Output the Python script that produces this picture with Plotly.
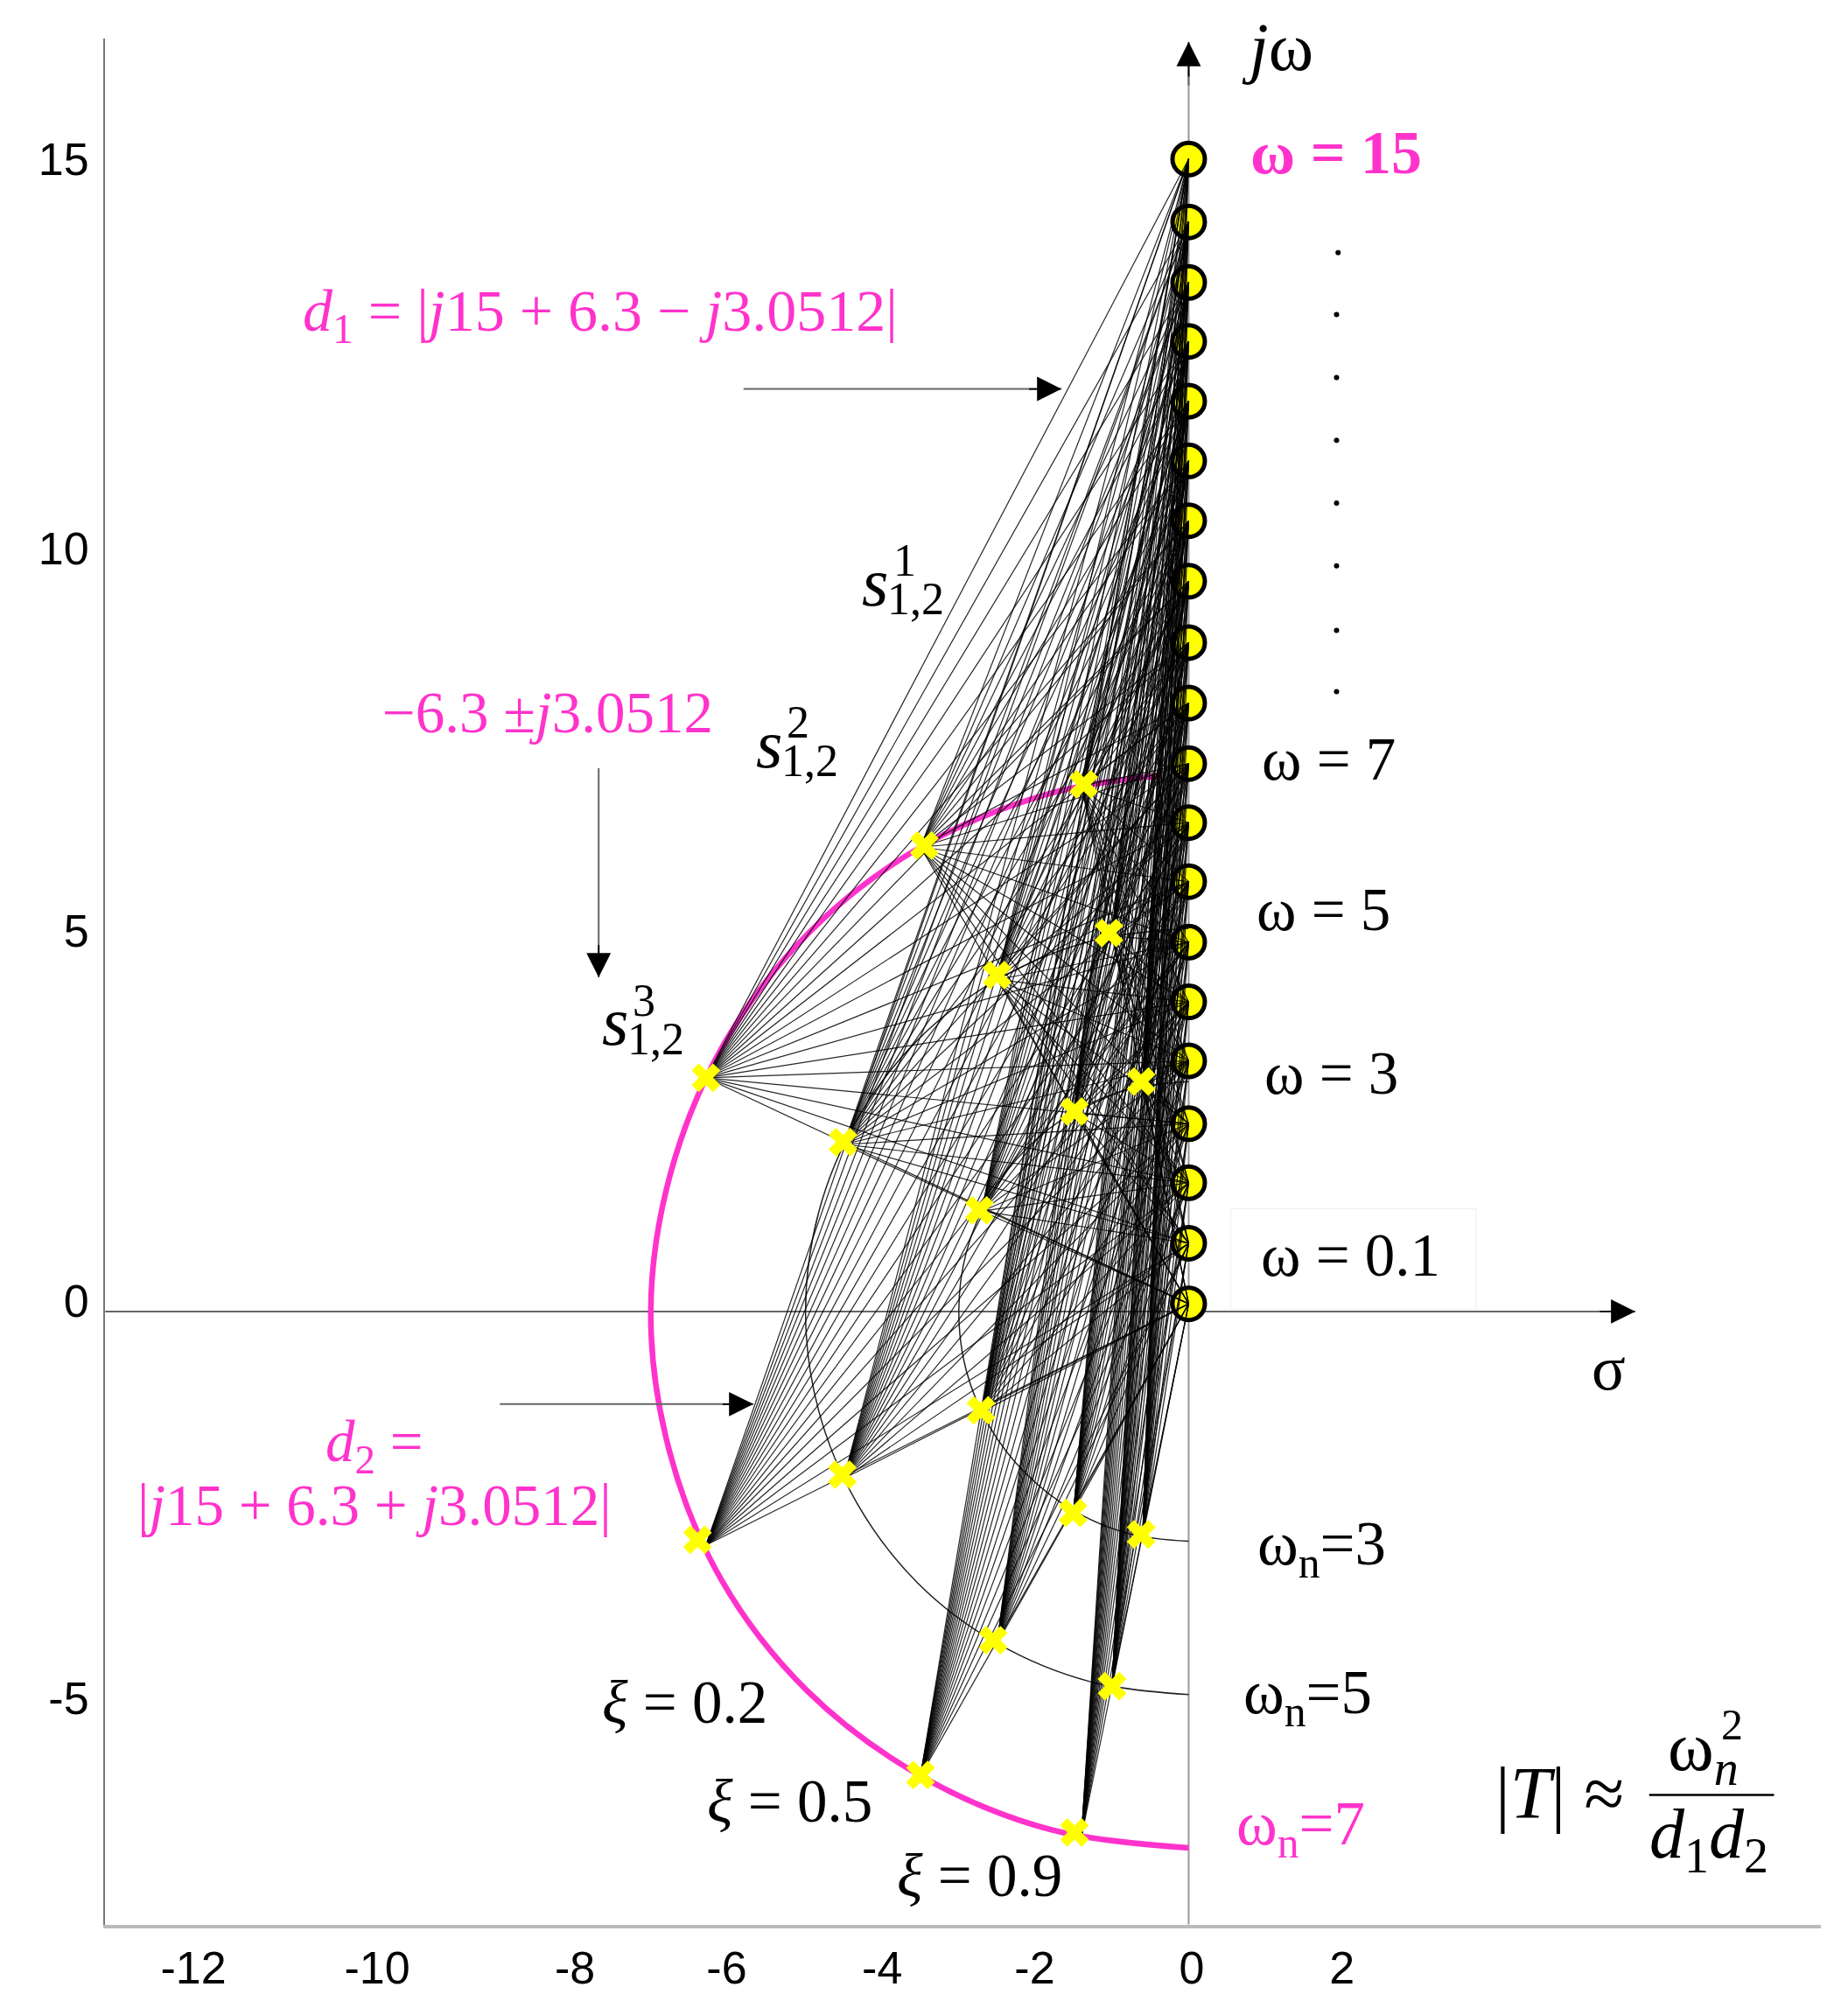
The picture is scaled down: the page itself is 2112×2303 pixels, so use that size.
import plotly.graph_objects as go

MAGENTA = "#ff33cc"
SERIF = "Liberation Serif"

# frequencies on the j-omega axis
omega = [15.04, 14.22, 13.43, 12.66, 11.88, 11.1, 10.32, 9.53, 8.73, 7.94,
         7.15, 6.38, 5.61, 4.82, 4.04, 3.27, 2.45, 1.68, 0.89, 0.1]

# closed loop poles the distance lines start from
pole_re = [-1.4, -3.5, -6.3, -1.0, -2.5, -4.5, -0.6, -1.5, -2.7,
           -1.4, -3.5, -6.3, -1.0, -2.5, -4.5, -0.6, -1.5, -2.7]
pole_im = [6.86, 6.06, 3.05, 4.9, 4.33, 2.18, 2.94, 2.6, 1.31,
           -6.86, -6.06, -3.05, -4.9, -4.33, -2.18, -2.94, -2.6, -1.31]

# the crosses sit slightly off the poles in the picture, so they get their own values
cross_re = [-1.37, -3.45, -6.3, -1.04, -2.5, -4.51, -0.62, -1.49, -2.73,
            -1.49, -3.5, -6.41, -1.0, -2.55, -4.52, -0.62, -1.51, -2.71]
cross_im = [6.88, 6.08, 3.05, 4.94, 4.39, 2.21, 3.0, 2.61, 1.32,
            -6.8, -6.05, -2.98, -4.89, -4.29, -2.13, -2.91, -2.63, -1.29]

# natural frequency arcs
arc7_x = [-0.4, -1.81, -3.5, -4.95, -6.06, -6.76, -7.02, -6.78, -6.1, -4.98, -3.5, -1.81, 0]
arc7_y = [6.99, 6.76, 6.06, 4.95, 3.5, 1.81, 0, -1.81, -3.5, -4.95, -6.06, -6.76, -7.0]
arc5_x = [0, -1.29, -2.5, -3.54, -4.33, -4.83, -5.0, -4.83, -4.33, -3.54, -2.5, -1.29, 0]
arc5_y = [5.0, 4.83, 4.33, 3.54, 2.5, 1.29, 0, -1.29, -2.5, -3.54, -4.33, -4.83, -5.0]
arc3_x = [0, -0.78, -1.5, -2.12, -2.6, -2.9, -3.0, -2.9, -2.6, -2.12, -1.5, -0.78, 0]
arc3_y = [3.0, 2.9, 2.6, 2.12, 1.5, 0.78, 0, -0.78, -1.5, -2.12, -2.6, -2.9, -3.0]

# the column of dots between omega = 15 and omega = 7
dots_x = [1.95, 1.93, 1.93, 1.93, 1.93, 1.93, 1.93, 1.93]
dots_y = [13.82, 13.01, 12.19, 11.37, 10.55, 9.73, 8.89, 8.09]

xtick_pos = [-12.99, -10.59, -8.01, -6.03, -4.0, -2.01, 0.04, 2.0]
xtick_text = ["-12", "-10", "-8", "-6", "-4", "-2", "0", "2"]
ytick_pos = [15.04, 9.96, 4.97, 0.14, -5.05]
ytick_text = ["15", "10", "5", "0", "-5"]

fan_x, fan_y = [], []
for re, im in zip(pole_re, pole_im):
    for w in omega:
        fan_x += [re, 0, None]
        fan_y += [im, w, None]

fig = go.Figure()

# circles go first, the fan lines run over their left half
fig.add_trace(go.Scatter(x=[0] * len(omega), y=omega, mode="markers",
                         marker=dict(size=37, color="#ffff00", line=dict(color="black", width=5))))
fig.add_trace(go.Scatter(x=arc7_x, y=arc7_y, mode="lines",
                         line=dict(color=MAGENTA, width=6.5, shape="spline")))
fig.add_trace(go.Scatter(x=arc5_x, y=arc5_y, mode="lines",
                         line=dict(color="#222222", width=1.5, shape="spline")))
fig.add_trace(go.Scatter(x=arc3_x, y=arc3_y, mode="lines",
                         line=dict(color="#222222", width=1.5, shape="spline")))
fig.add_trace(go.Scatter(x=fan_x, y=fan_y, mode="lines",
                         line=dict(color="rgba(0,0,0,0.85)", width=1.2)))
fig.add_trace(go.Scatter(x=cross_re, y=cross_im, mode="markers",
                         marker=dict(symbol="x", size=29, color="#ffff00", line=dict(width=0))))
fig.add_trace(go.Scatter(x=dots_x, y=dots_y, mode="markers",
                         marker=dict(size=6, color="black")))

# axes through the origin and the box behind omega = 0.1
fig.add_shape(type="line", x0=0, x1=0, y0=-8.0, y1=16.2, layer="below",
              line=dict(color="#999999", width=2))
fig.add_shape(type="line", x0=-14.14, x1=5.6, y0=0, y1=0, layer="below",
              line=dict(color="#666666", width=2))
fig.add_shape(type="rect", x0=0.55, x1=3.75, y0=0.03, y1=1.34, layer="below",
              line=dict(color="#eeeeee", width=1))
fig.add_shape(type="line", x0=6.01, x1=7.64, y0=-6.31, y1=-6.31,
              line=dict(color="black", width=2.5))


def arrow(x0, y0, x1, y1, hx, hy):
    # gray shaft, the black head only covers its last stretch
    fig.add_shape(type="line", x0=x0, y0=y0, x1=x1, y1=y1, line=dict(color="#666666", width=2))
    fig.add_annotation(x=x1, y=y1, ax=hx, ay=hy, xref="x", yref="y", axref="x", ayref="y",
                       text="", showarrow=True, arrowhead=2, arrowsize=3.1, arrowwidth=1.8,
                       arrowcolor="black")


arrow(0, 16.0, 0, 16.57, 0, 16.1)
arrow(5.3, 0, 5.83, 0, 5.35, 0)
arrow(-5.81, 12.04, -1.66, 12.04, -2.1, 12.04)
arrow(-7.7, 7.09, -7.7, 4.36, -7.7, 4.8)
arrow(-8.99, -1.21, -5.68, -1.21, -6.1, -1.21)


def label(text, x, y, size=69, color="black", family=SERIF):
    fig.add_annotation(x=x, y=y, xref="x", yref="y", text=text, showarrow=False,
                       font=dict(size=size, color=color, family=family))


label("<i>j</i>ω", 1.16, 16.5, 78)
label("<b>ω = 15</b>", 1.92, 15.12, 70, MAGENTA)
label("<i>d</i><sub>1</sub> = |<i>j</i>15 + 6.3 − <i>j</i>3.0512|", -7.68, 13.01, 68, MAGENTA)
label("−6.3 ±<i>j</i>3.0512", -8.37, 7.82, 67, MAGENTA)
label("<i>d</i><sub>2</sub> =", -10.63, -1.75, 67, MAGENTA)
label("|<i>j</i>15 + 6.3 + <i>j</i>3.0512|", -10.63, -2.52, 67, MAGENTA)
label("ω = 7", 1.83, 7.2)
label("ω = 5", 1.76, 5.24)
label("ω = 3", 1.86, 3.11)
label("ω = 0.1", 2.11, 0.73)
label("σ", 5.48, -0.74, 72)
label("ω<sub>n</sub>=3", 1.74, -3.09, 71)
label("ω<sub>n</sub>=5", 1.55, -5.03, 71)
label("ω<sub>n</sub>=7", 1.46, -6.74, 71, MAGENTA)
label("<i>ξ</i> = 0.2", -6.58, -5.1)
label("<i>ξ</i> = 0.5", -5.21, -6.4)
label("<i>ξ</i> = 0.9", -2.73, -7.37)
label("|<i>T</i>| ≈", 4.84, -6.29, 84)
label("ω<sub><i>n</i></sub>", 6.72, -5.74, 80)
label("2", 7.09, -5.39, 50)
label("<i>d</i><sub>1</sub><i>d</i><sub>2</sub>", 6.79, -6.89, 80)

for sup, x, y in [("1", -3.73, 9.54), ("2", -5.12, 7.43), ("3", -7.13, 3.8)]:
    label("<i>s</i>", x - 0.36, y - 0.02, 78)
    label("1,2", x + 0.17, y - 0.24, 52)
    label(sup, x + 0.02, y + 0.26, 52)

tick_font = dict(family="Liberation Sans", size=52, color="black")
fig.update_xaxes(range=[-14.143, 8.251], tickvals=xtick_pos, ticktext=xtick_text,
                 tickfont=tick_font, showgrid=False, zeroline=False,
                 showline=True, linecolor="#bbbbbb", linewidth=4,
                 ticks="outside", ticklen=1, tickcolor="white")
fig.update_yaxes(range=[-8.006, 16.614], tickvals=ytick_pos, ticktext=ytick_text,
                 tickfont=tick_font, showgrid=False, zeroline=False,
                 showline=True, linecolor="#777777", linewidth=2,
                 ticks="outside", ticklen=6, tickcolor="white")

fig.update_layout(width=2112, height=2303, showlegend=False,
                  plot_bgcolor="white", paper_bgcolor="white",
                  margin=dict(l=120, r=31, t=44, b=103))

fig.write_html("out.html", config=dict(displayModeBar=False),
               post_script="document.body.style.margin='0';")
